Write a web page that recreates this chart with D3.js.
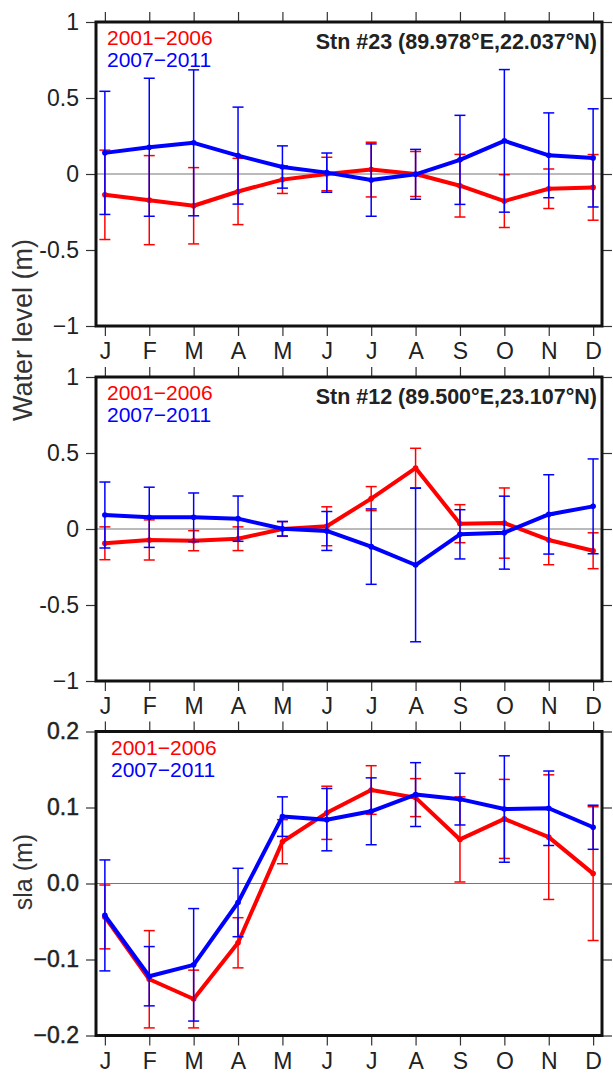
<!DOCTYPE html>
<html>
<head>
<meta charset="utf-8">
<script src="https://cdn.jsdelivr.net/npm/d3@7"></script>
<style>
  body { margin: 0; background: #fff; }
  svg text { font-family: "Liberation Sans", Arial, Helvetica, sans-serif; fill: #222; }
</style>
</head>
<body>
<svg id="chart" width="613" height="1073"></svg>
<script>
// month axis
const months = ['J', 'F', 'M', 'A', 'M', 'J', 'J', 'A', 'S', 'O', 'N', 'D'];

// y ticks
const waterTicks = [1, 0.5, 0, -0.5, -1];
const waterTickLabels = ['1', '0.5', '0', '-0.5', '\u22121'];
const slaTicks = [0.2, 0.1, 0, -0.1, -0.2];
const slaTickLabels = ['0.2', '0.1', '0.0', '\u22120.1', '\u22120.2'];

const periods = ['2001\u22122006', '2007\u22122011'];

// Stn #23 water level (m): monthly mean and error half-width
const stn23Early = [-0.137, -0.172, -0.209, -0.115, -0.037, 0.0, 0.029, 0.0, -0.077, -0.178, -0.097, -0.088];
const stn23EarlyErr = [0.294, 0.293, 0.251, 0.218, 0.091, 0.11, 0.18, 0.148, 0.206, 0.174, 0.13, 0.216];
const stn23Late = [0.139, 0.176, 0.205, 0.121, 0.046, 0.009, -0.04, -0.002, 0.093, 0.218, 0.123, 0.106];
const stn23LateErr = [0.405, 0.454, 0.48, 0.319, 0.139, 0.129, 0.238, 0.164, 0.293, 0.469, 0.279, 0.323];

// Stn #12 water level (m)
const stn12Early = [-0.094, -0.072, -0.077, -0.064, 0.0, 0.018, 0.2, 0.401, 0.035, 0.039, -0.072, -0.143];
const stn12EarlyErr = [0.108, 0.132, 0.066, 0.078, 0.048, 0.128, 0.079, 0.13, 0.125, 0.231, 0.163, 0.118];
const stn12Late = [0.092, 0.077, 0.077, 0.068, 0.002, -0.013, -0.116, -0.237, -0.035, -0.024, 0.096, 0.149];
const stn12LateErr = [0.217, 0.198, 0.16, 0.149, 0.048, 0.128, 0.248, 0.505, 0.162, 0.24, 0.261, 0.312];

// sea level anomaly (m)
const slaEarly = [-0.044, -0.126, -0.152, -0.078, 0.055, 0.093, 0.123, 0.113, 0.058, 0.085, 0.061, 0.013];
const slaEarlyErr = [0.042, 0.064, 0.038, 0.033, 0.029, 0.035, 0.032, 0.025, 0.056, 0.052, 0.082, 0.088];
const slaLate = [-0.042, -0.122, -0.107, -0.025, 0.088, 0.084, 0.095, 0.117, 0.111, 0.098, 0.099, 0.074];
const slaLateErr = [0.073, 0.039, 0.074, 0.045, 0.026, 0.041, 0.044, 0.042, 0.034, 0.07, 0.049, 0.029];

const svg = d3.select('#chart');
const left = 96, right = 602, panelHeight = 304;

const x = d3.scaleLinear().domain([0.8, 12.2]).range([0, right - left]);

const panels = [
  { top: 22, domain: [-1, 1], ticks: waterTicks, labels: waterTickLabels, legendX: 11,
    station: 'Stn #23 (89.978\u00b0E,22.037\u00b0N)',
    early: stn23Early, earlyErr: stn23EarlyErr, late: stn23Late, lateErr: stn23LateErr },
  { top: 377, domain: [-1, 1], ticks: waterTicks, labels: waterTickLabels, legendX: 11,
    station: 'Stn #12 (89.500\u00b0E,23.107\u00b0N)',
    early: stn12Early, earlyErr: stn12EarlyErr, late: stn12Late, lateErr: stn12LateErr },
  { top: 731.5, domain: [-0.2, 0.2], ticks: slaTicks, labels: slaTickLabels, legendX: 15,
    station: null, bold: true,
    early: slaEarly, earlyErr: slaEarlyErr, late: slaLate, lateErr: slaLateErr },
];

function drawSeries(g, y, means, errs, color) {
  const pts = means.map((m, i) => ({ month: i + 1, value: m, err: errs[i] }));

  const bars = g.append('g')
    .attr('stroke', color)
    .attr('stroke-width', 1.5)
    .selectAll('g')
    .data(pts)
    .join('g');
  bars.append('line')
    .attr('x1', (d) => x(d.month)).attr('x2', (d) => x(d.month))
    .attr('y1', (d) => y(d.value + d.err)).attr('y2', (d) => y(d.value - d.err));
  [1, -1].forEach((s) => {
    bars.append('line')
      .attr('x1', (d) => x(d.month) - 5.5).attr('x2', (d) => x(d.month) + 5.5)
      .attr('y1', (d) => y(d.value + s * d.err)).attr('y2', (d) => y(d.value + s * d.err));
  });

  g.append('path')
    .datum(pts)
    .attr('fill', 'none')
    .attr('stroke', color)
    .attr('stroke-width', 4)
    .attr('stroke-linejoin', 'round')
    .attr('d', d3.line().x((d) => x(d.month)).y((d) => y(d.value)));

  g.append('g')
    .selectAll('circle')
    .data(pts)
    .join('circle')
    .attr('cx', (d) => x(d.month))
    .attr('cy', (d) => y(d.value))
    .attr('r', 2.8)
    .attr('fill', color);
}

function styleAxis(a) {
  a.select('.domain').remove();
  a.selectAll('.tick line').attr('stroke', '#333').attr('stroke-width', 1.2);
}

panels.forEach((p) => {
  const y = d3.scaleLinear().domain(p.domain).range([panelHeight, 0]);
  const g = svg.append('g').attr('transform', `translate(${left},${p.top})`);

  // zero line
  g.append('line')
    .attr('x1', 0).attr('x2', x.range()[1])
    .attr('y1', y(0)).attr('y2', y(0))
    .attr('stroke', '#777').attr('stroke-width', 1.2);

  drawSeries(g, y, p.early, p.earlyErr, '#ff0000');
  drawSeries(g, y, p.late, p.lateErr, '#0000ff');

  // axes
  const yl = g.append('g')
    .call(d3.axisLeft(y).tickValues(p.ticks).tickSize(10).tickPadding(7)
      .tickFormat((d, i) => p.labels[i]))
    .call(styleAxis);
  yl.selectAll('.tick text')
    .attr('font-size', 23)
    .attr('font-family', null)
    .attr('fill', '#222')
    .attr('stroke', p.bold ? '#222' : null)
    .attr('stroke-width', p.bold ? 0.45 : null);

  g.append('g').attr('transform', `translate(${x.range()[1]},0)`)
    .call(d3.axisRight(y).tickValues(p.ticks).tickSize(10).tickFormat(''))
    .call(styleAxis);

  g.append('g')
    .call(d3.axisTop(x).tickValues(d3.range(1, 13)).tickSize(10).tickFormat(''))
    .call(styleAxis);

  const xb = g.append('g').attr('transform', `translate(0,${panelHeight})`)
    .call(d3.axisBottom(x).tickValues(d3.range(1, 13)).tickSize(10).tickPadding(6)
      .tickFormat((d) => months[d - 1]))
    .call(styleAxis);
  xb.selectAll('.tick text')
    .attr('font-size', 23)
    .attr('font-family', '"Open Sans", "Noto Sans", sans-serif')
    .attr('fill', '#222')
    .attr('dy', null)
    .attr('y', 33);

  // frame
  g.append('rect')
    .attr('width', x.range()[1]).attr('height', panelHeight)
    .attr('fill', 'none').attr('stroke', '#111').attr('stroke-width', 3);

  // legend
  const colors = ['#ff0000', '#0000ff'];
  periods.forEach((t, i) => {
    g.append('text')
      .attr('x', p.legendX).attr('y', 23 + i * 22)
      .attr('font-size', 21)
      .style('fill', colors[i])
      .text(t);
  });

  if (p.station) {
    g.append('text')
      .attr('x', x.range()[1] - 5).attr('y', 27)
      .attr('text-anchor', 'end')
      .attr('font-size', 21.5)
      .attr('font-weight', 'bold')
      .text(p.station);
  }
});

// y titles
svg.append('text')
  .attr('transform', 'translate(32,330) rotate(-90)')
  .attr('text-anchor', 'middle')
  .attr('font-size', 27)
  .style('fill', '#333')
  .text('Water level (m)');

svg.append('text')
  .attr('transform', 'translate(32,872) rotate(-90)')
  .attr('text-anchor', 'middle')
  .attr('font-size', 25)
  .style('fill', '#333')
  .text('sla (m)');
</script>
</body>
</html>
